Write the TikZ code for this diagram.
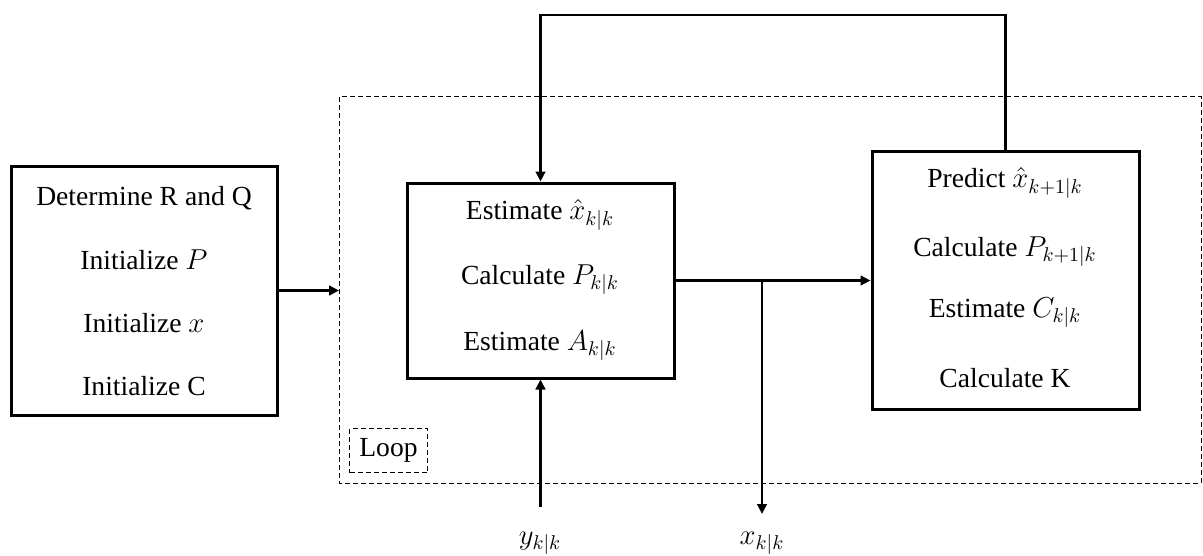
\documentclass[tikz,border=0pt]{standalone}
\usepackage{fontspec}
\setmainfont{Liberation Serif}
\usetikzlibrary{arrows.meta}
\begin{document}
\begin{tikzpicture}[x=0.5pt,y=-0.5pt,
  blk/.style={draw,line width=1.5pt,inner sep=0pt,minimum width=#1},
  txt/.style={inner sep=0pt,font=\fontsize{13.8}{16}\selectfont},
  conn/.style={line width=1.4pt},
  arr/.style={conn,-{Triangle[length=5pt,width=4.8pt]}},
  dash box/.style={draw,line width=0.5pt,dash pattern=on 2.5pt off 1.5pt}]
\useasboundingbox (0,0) rectangle (1203,556);
% loop region
\draw[dash box] (339,97) rectangle (1201,483);
\node[dash box,inner sep=0pt,minimum width=39pt,minimum height=22pt,anchor=north west] (loopbox) at (349,428) {};
\node[txt] (looptxt) at (loopbox.center) {Loop};
% boxes
\node[blk=133pt,minimum height=124.5pt] (L) at (144,290.5) {};
\node[blk=133.5pt,minimum height=97.5pt] (M) at (540.5,280.5) {};
\node[blk=133.5pt,minimum height=129pt] (R) at (1005.5,280) {};
% left texts
\node[txt] (l1) at (144,198) {Determine R and Q};
\node[txt] (l2) at (144,260) {Initialize $P$};
\node[txt] (l3) at (144,323) {Initialize $x$};
\node[txt] (l4) at (144,386) {Initialize C};
% middle texts
\node[txt] (m1) at (540,215) {Estimate $\hat{x}_{k|k}$};
\node[txt] (m2) at (540,280) {Calculate $P_{k|k}$};
\node[txt] (m3) at (540,346) {Estimate $A_{k|k}$};
% right texts
\node[txt] (r1) at (1005,183) {Predict $\hat{x}_{k+1|k}$};
\node[txt] (r2) at (1005,252) {Calculate $P_{k+1|k}$};
\node[txt] (r3) at (1005,313) {Estimate $C_{k|k}$};
\node[txt] (r4) at (1005,378) {Calculate K};
% labels
\node[txt] (ylab) at (540,543) {$y_{k|k}$};
\node[txt] (xlab) at (762,543) {$x_{k|k}$};
% coordinates
\coordinate (lin) at (339,290.5);
\coordinate (top) at (540.5,15);
\coordinate (br) at (762,280.5);
\coordinate (xend) at (762,514);
\coordinate (ystart) at (540.5,507);
% connectors
\draw[arr] (L.east) -- (lin);
\draw[arr] (R.north) |- (top) -- (M.north);
\draw[arr] (M.east) -- (M.east -| R.west);
\draw[arr] (br) -- (xend);
\draw[arr] (ystart) -- (M.south);
\end{tikzpicture}
\end{document}
